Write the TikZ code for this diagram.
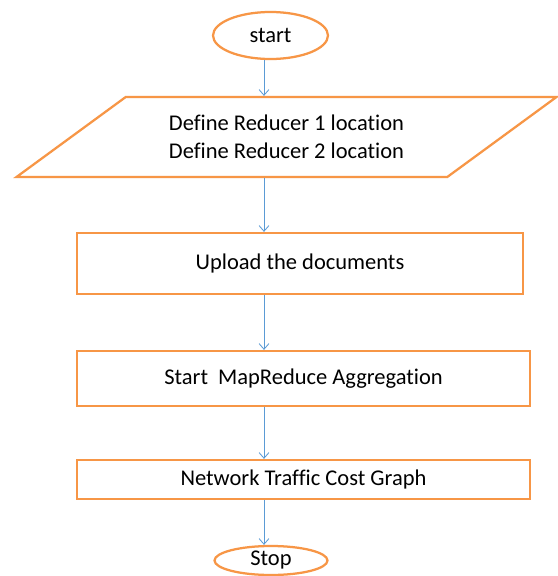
\documentclass[tikz,border=0pt]{standalone}
\usepackage{fontspec}
\setmainfont[Ligatures=NoCommon]{Carlito}
\usetikzlibrary{arrows.meta,shapes.geometric}

\definecolor{flowor}{HTML}{F79646}
\definecolor{flowbl}{HTML}{5B9BD5}

\begin{document}
\begin{tikzpicture}[
  termbox/.style={draw=flowor, ellipse, line width=1.6pt, fill=white, inner sep=0pt, font=\fontsize{16}{20}\selectfont},
  iobox/.style={draw=flowor, trapezium, trapezium left angle=28.8, trapezium right angle=151.2, trapezium stretches=true, line width=1.6pt, fill=white, align=center, inner sep=0pt, font=\fontsize{16}{20}\selectfont},
  procbox/.style={draw=flowor, rectangle, line width=1.6pt, fill=white, align=center, inner sep=0pt, font=\fontsize{16}{20}\selectfont},
  arrow/.style={draw=flowbl, line width=0.6pt, -{Straight Barb[length=4pt,width=7pt]}}
]

\useasboundingbox[fill=white] (0,0) rectangle (13.95,-14.4);

\coordinate (spine) at (6.6, 0);

\node[termbox, minimum width=2.875cm, minimum height=1.175cm] (start) at (6.7625, -0.8875) {start};

\node[iobox, minimum width=13.525cm, minimum height=2.0cm] (reducers) at (7.1625, -3.425) {Define Reducer 1 location\\Define Reducer 2 location};

\node[procbox, minimum width=11.15cm, minimum height=1.525cm] (upload) at (7.5, -6.5875) {Upload the documents};
\node[procbox, minimum width=11.325cm, minimum height=1.375cm] (mapred) at (7.5875, -9.4625) {Start\ \ MapReduce Aggregation};
\node[procbox, minimum width=11.325cm, minimum height=0.975cm] (cost) at (7.5875, -11.9875) {Network Traffic Cost Graph};

\node[termbox, minimum width=2.825cm, minimum height=0.725cm] (stop) at (6.775, -14.0125) {Stop};

\draw[arrow] (start.south -| spine) -- (reducers.north -| spine);
\draw[arrow] (reducers.south -| spine) -- (upload.north -| spine);
\draw[arrow] (upload.south -| spine) -- (mapred.north -| spine);
\draw[arrow] (mapred.south -| spine) -- (cost.north -| spine);
\draw[arrow] (cost.south -| spine) -- (stop.north -| spine);

\end{tikzpicture}
\end{document}
